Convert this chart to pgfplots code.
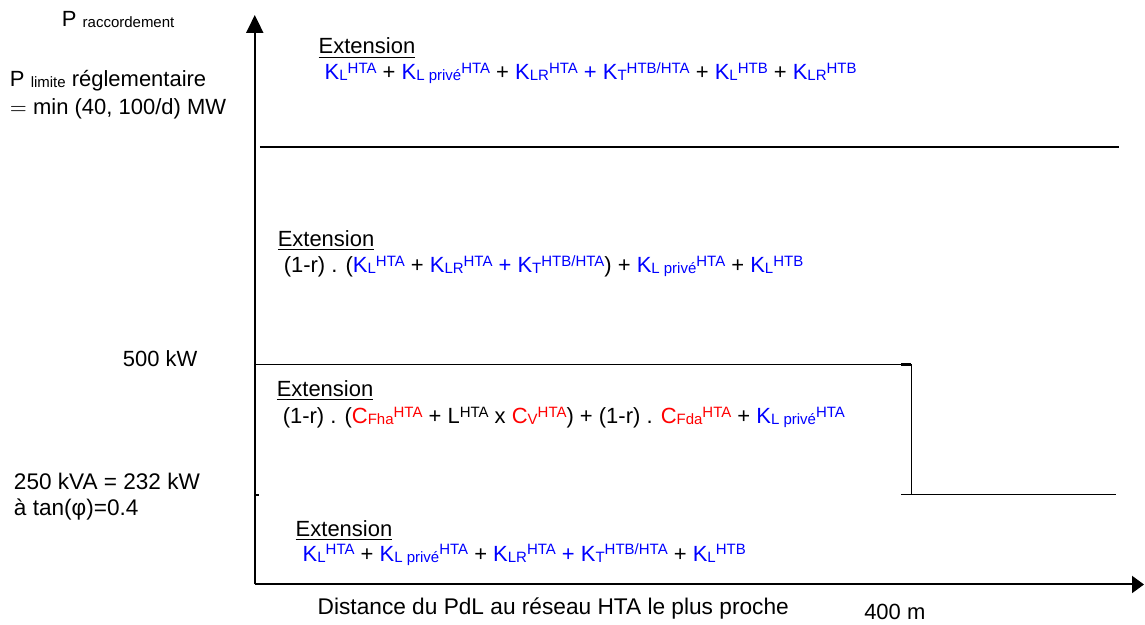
\documentclass[border=0pt]{standalone}
\usepackage{pgfplots}
\pgfplotsset{compat=1.18}
\usepackage{fontspec}
\setmainfont{Liberation Sans}
\usetikzlibrary{arrows.meta}

\definecolor{kblue}{RGB}{0,0,255}
\definecolor{cred}{RGB}{255,0,0}
\newcommand{\B}[1]{\textcolor{kblue}{#1}}
\newcommand{\R}[1]{\textcolor{cred}{#1}}
\newcommand{\subx}[1]{\raisebox{-0.4pt}{\fontsize{7.5}{9}\selectfont #1}}
\newcommand{\supx}[1]{\raisebox{3.3pt}{\fontsize{7.5}{9}\selectfont #1}}
\newcommand{\ext}{\underline{Extension}}
\tikzset{lbl/.style={font=\fontsize{11}{13}\selectfont, inner sep=0pt, outer sep=0pt, anchor=base west}}

\begin{document}
\begin{tikzpicture}
\begin{axis}[
  hide axis,
  scale only axis,
  width=572.5pt, height=312.5pt,
  xmin=0, xmax=1145, ymin=0, ymax=625,
  y dir=reverse,
  clip=false,
]
% keeps the page as large as the reference
\addplot[draw=none, forget plot] coordinates {(0,0) (1145,625)};

% axes with arrow heads
\addplot[black, line width=1pt, -{Triangle[length=9pt, width=8.5pt]}] coordinates {(255,585) (255,15)};
\addplot[black, line width=1pt, -{Triangle[length=6pt, width=8.5pt]}] coordinates {(255,585) (1145,585)};

% boundaries between the zones
\addplot[black, line width=0.7pt] coordinates {(260,147) (1120,147)};
\addplot[black, line width=0.7pt] coordinates {(255,365) (912,365) (912,495)};
\addplot[black, line width=1.2pt] coordinates {(902,365) (912,365)};
\addplot[black, line width=0.7pt] coordinates {(902,495) (1117,495)};
\addplot[black, line width=1pt] coordinates {(256,495) (259,495)};

% left labels
\node[lbl] at (axis cs:62,27) {P \subx{raccordement}};
\node[lbl] at (axis cs:10,87) {P \subx{limite} réglementaire};
\node[lbl] at (axis cs:10,115) {$=$ min (40, 100/d) MW};
\node[lbl] at (axis cs:123,367) {500 kW};
\node[lbl, font=\fontsize{11.3}{13}\selectfont] at (axis cs:14,490) {250 kVA = 232 kW};
\node[lbl, font=\fontsize{11.3}{13}\selectfont] at (axis cs:14,516) {à tan(φ)=0.4};

% zone 1
\node[lbl] at (axis cs:319,54) {\ext};
\node[lbl] at (axis cs:325,80) {\B{K\subx{L}\supx{HTA}} + \B{K\subx{L privé}\supx{HTA}} + \B{K\subx{LR}\supx{HTA} + K\subx{T}\supx{HTB/HTA}} + \B{K\subx{L}\supx{HTB}} + \B{K\subx{LR}\supx{HTB}}};

% zone 2
\node[lbl] at (axis cs:278,247) {\ext};
\node[lbl] at (axis cs:284,273) {(1-r) . (\B{K\subx{L}\supx{HTA}} + \B{K\subx{LR}\supx{HTA} + K\subx{T}\supx{HTB/HTA}}) + \B{K\subx{L privé}\supx{HTA}} + \B{K\subx{L}\supx{HTB}}};

% zone 3
\node[lbl] at (axis cs:277,397) {\ext};
\node[lbl] at (axis cs:283,424) {(1-r) . (\R{C\subx{Fha}\supx{HTA}} + L\supx{HTA} x \R{C\subx{V}\supx{HTA}}) + (1-r) . \R{C\subx{Fda}\supx{HTA}} + \B{K\subx{L privé}\supx{HTA}}};

% zone 4
\node[lbl] at (axis cs:296,537) {\ext};
\node[lbl] at (axis cs:303,562) {\B{K\subx{L}\supx{HTA}} + \B{K\subx{L privé}\supx{HTA}} + \B{K\subx{LR}\supx{HTA} + K\subx{T}\supx{HTB/HTA}} + \B{K\subx{L}\supx{HTB}}};

% x axis labels
\node[lbl, font=\fontsize{11.35}{13}\selectfont] at (axis cs:318,615) {Distance du PdL au réseau HTA le plus proche};
\node[lbl] at (axis cs:865,620) {400 m};
\end{axis}
\end{tikzpicture}
\end{document}
